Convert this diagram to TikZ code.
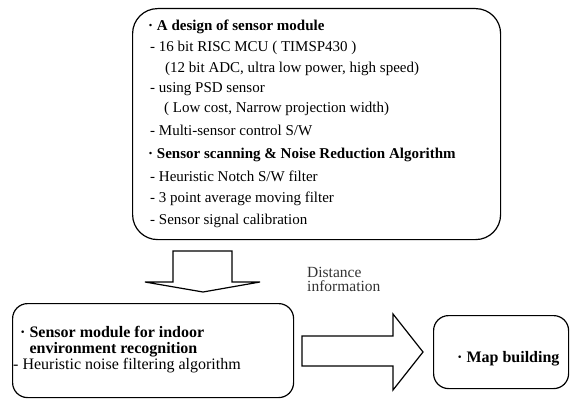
\documentclass[tikz,border=0pt]{standalone}
\usepackage{fontspec}
\setmainfont{Liberation Serif}
\begin{document}
\begin{tikzpicture}[x=1pt,y=-1pt,
  box/.style={draw=black, line width=1.2pt, inner sep=0pt, anchor=north west},
  ln/.style={anchor=base west, inner sep=0pt, font=\fontsize{15}{18}\selectfont},
  lnb/.style={anchor=base west, inner sep=0pt, font=\fontsize{15}{18}\selectfont\bfseries},
  bl/.style={anchor=base west, inner sep=0pt, font=\fontsize{16}{19}\selectfont},
  blb/.style={anchor=base west, inner sep=0pt, font=\fontsize{16}{19}\selectfont\bfseries},
  lbl/.style={anchor=base west, inner sep=0pt, font=\fontsize{15.5}{18}\selectfont, text=black!80},
  blockarrow/.style={draw=black, line width=1.2pt, fill=white, line join=miter}
]
\useasboundingbox (0,0) rectangle (572,404);

% top box
\node[box, rounded corners=25pt, minimum width=368pt, minimum height=231pt] (design) at (132,8) {};
\node[lnb] (t1) at (148,31) {· A design of sensor module};
\node[ln] (t2) at (150,52) {- 16 bit RISC MCU ( TIMSP430 )};
\node[ln] (t3) at (165,72) {(12 bit ADC, ultra low power, high speed)};
\node[ln] (t4) at (150,92) {- using PSD sensor};
\node[ln] (t5) at (164,112) {( Low cost, Narrow projection width)};
\node[ln] (t6) at (150,135) {- Multi-sensor control S/W};
\node[lnb] (t7) at (148,158) {· Sensor scanning \& Noise Reduction Algorithm};
\node[ln] (t8) at (150,181) {- Heuristic Notch S/W filter};
\node[ln] (t9) at (150,202) {- 3 point average moving filter};
\node[ln] (t10) at (150,224) {- Sensor signal calibration};

% down block arrow
\draw[blockarrow] (173,251) -- (232,251) -- (232,282) -- (260,282) -- (203,292)
  -- (145,282) -- (173,282) -- cycle;

% bottom-left box
\node[box, rounded corners=15pt, minimum width=281pt, minimum height=94pt] (sensor) at (12,303) {};
\node[blb] (s1) at (20,337) {· Sensor module for indoor};
\node[blb] (s2) at (20,353) {\phantom{· }environment recognition};
\node[bl] (s3) at (13,369) {- Heuristic noise filtering algorithm};

% right block arrow
\draw[blockarrow] (302,336) -- (393,336) -- (393,314) -- (423,352) -- (393,390)
  -- (393,366) -- (302,366) -- cycle;
\node[lbl] (d1) at (307,277) {Distance};
\node[lbl] (d2) at (307,291) {information};

% map box
\node[box, rounded corners=15pt, minimum width=135pt, minimum height=73pt] (map) at (433,315) {};
\node[blb] (m1) at (457,362) {· Map building};
\end{tikzpicture}
\end{document}
